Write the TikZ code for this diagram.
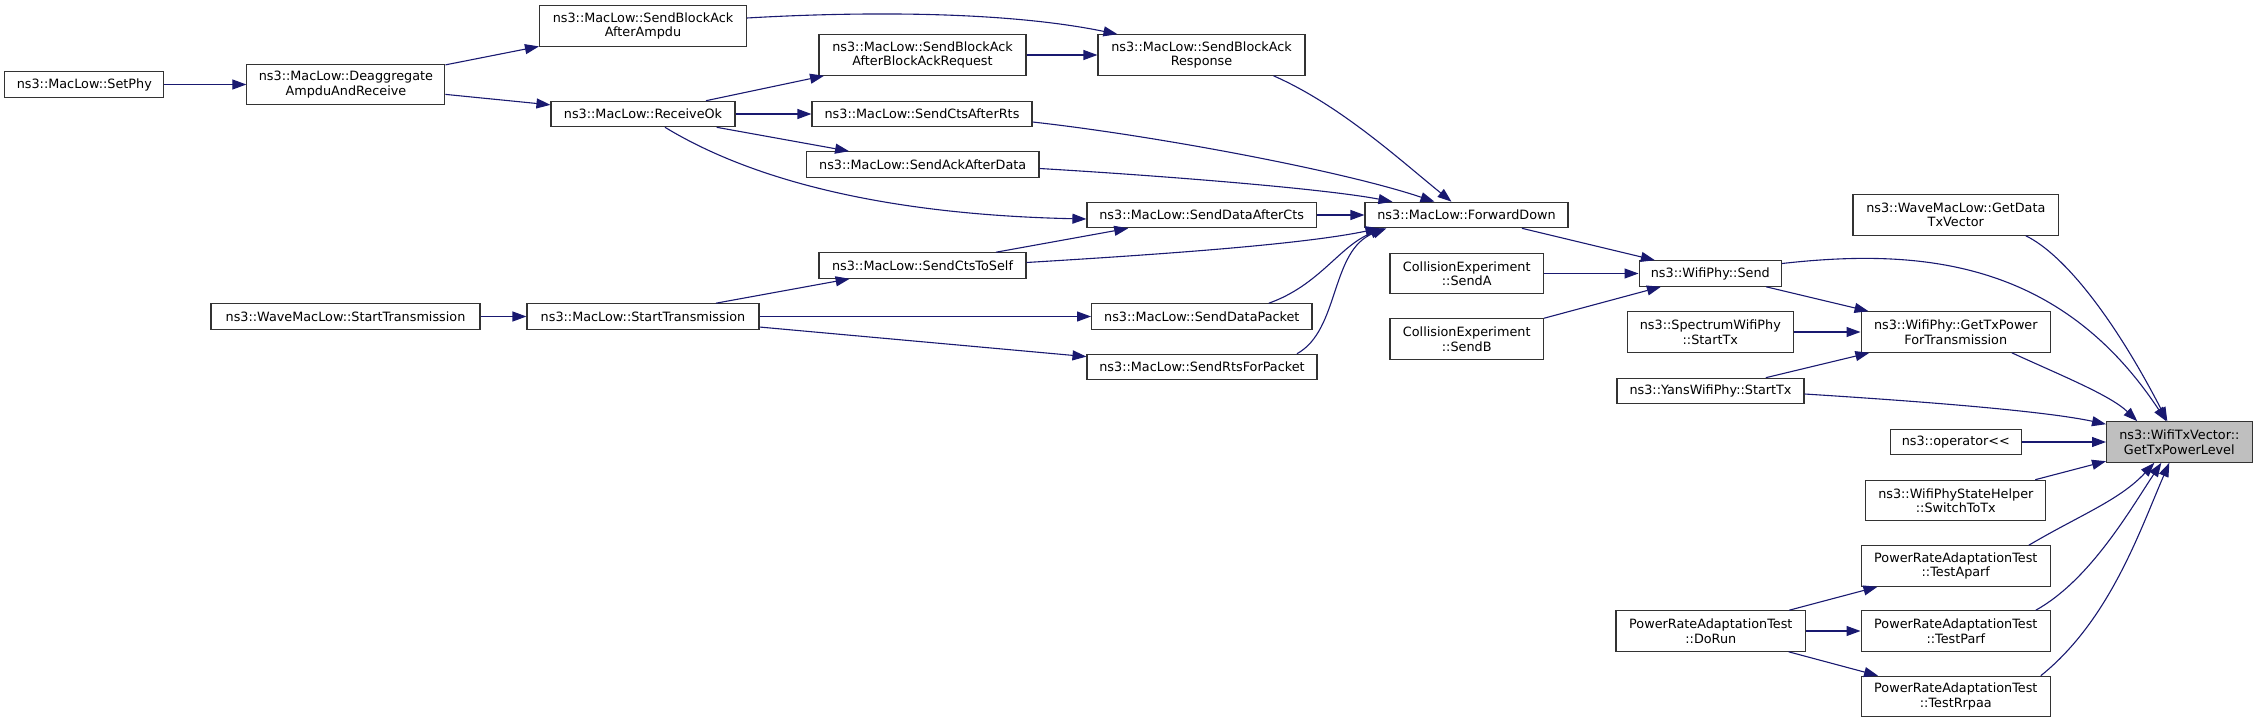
\documentclass[tikz,border=0pt]{standalone}
\usepackage{fontspec}
\setmainfont{DejaVu Sans}
\usepackage{tikz}
\usetikzlibrary{arrows.meta}
\definecolor{CallBlue}{HTML}{191970}
\definecolor{FocusGray}{HTML}{BFBFBF}
\tikzset{
  fn/.style={draw=black!80, line width=1.1bp, fill=white, inner sep=0pt, align=center,
    font=\fontsize{12.8bp}{14.5bp}\selectfont, minimum height=25.5bp},
  fntwo/.style={fn, minimum height=40.5bp},
  call/.style={draw=CallBlue, line width=1.1bp, -{Triangle[length=14bp,width=10bp]}}
}
\begin{document}
\begin{tikzpicture}[x=1bp, y=-1bp]
  \useasboundingbox (0,0) rectangle (2257,723);
  \node[fn, minimum width=159bp] (setphy) at (84.3,84.5) {ns3::MacLow::SetPhy};
  \node[fntwo, minimum width=198bp] (deagg) at (345.9,84.5) {ns3::MacLow::Deaggregate\\AmpduAndReceive};
  \node[fntwo, minimum width=207bp] (ampdu) at (643,26) {ns3::MacLow::SendBlockAck\\AfterAmpdu};
  \node[fn, minimum width=184bp] (recv) at (643,114) {ns3::MacLow::ReceiveOk};
  \node[fn, minimum width=269bp] (wavest) at (345.5,316.5) {ns3::WaveMacLow::StartTransmission};
  \node[fn, minimum width=232bp] (macst) at (643,316.5) {ns3::MacLow::StartTransmission};
  \node[fntwo, minimum width=207bp] (barreq) at (922.5,55) {ns3::MacLow::SendBlockAck\\AfterBlockAckRequest};
  \node[fntwo, minimum width=207bp] (barsp) at (1201.5,55) {ns3::MacLow::SendBlockAck\\Response};
  \node[fn, minimum width=220bp] (ctsrts) at (922,114) {ns3::MacLow::SendCtsAfterRts};
  \node[fn, minimum width=232.5bp] (ackdata) at (922.7,164.5) {ns3::MacLow::SendAckAfterData};
  \node[fn, minimum width=229.5bp] (datacts) at (1201.7,215) {ns3::MacLow::SendDataAfterCts};
  \node[fn, minimum width=203bp] (fwd) at (1466.5,215) {ns3::MacLow::ForwardDown};
  \node[fn, minimum width=207bp] (ctsself) at (922.5,265.5) {ns3::MacLow::SendCtsToSelf};
  \node[fntwo, minimum width=153.5bp] (senda) at (1466.7,273.5) {CollisionExperiment\\::SendA};
  \node[fntwo, minimum width=153.5bp] (sendb) at (1466.7,339) {CollisionExperiment\\::SendB};
  \node[fn, minimum width=220.4bp] (datapkt) at (1201.8,316.5) {ns3::MacLow::SendDataPacket};
  \node[fn, minimum width=230bp] (rtspkt) at (1202,367) {ns3::MacLow::SendRtsForPacket};
  \node[fn, minimum width=142.5bp] (physend) at (1710.3,273.5) {ns3::WifiPhy::Send};
  \node[fntwo, minimum width=205.7bp] (gdtv) at (1955.8,215) {ns3::WaveMacLow::GetData\\TxVector};
  \node[fntwo, minimum width=165.5bp] (spectx) at (1710.3,332) {ns3::SpectrumWifiPhy\\::StartTx};
  \node[fntwo, minimum width=189.5bp] (gtpft) at (1955.8,332) {ns3::WifiPhy::GetTxPower\\ForTransmission};
  \node[fn, minimum width=187bp] (yanstx) at (1710.5,391) {ns3::YansWifiPhy::StartTx};
  \node[fntwo, minimum width=145.5bp, fill=FocusGray] (lvl) at (2179.3,442) {ns3::WifiTxVector::\\GetTxPowerLevel};
  \node[fn, minimum width=131.5bp] (oplt) at (1955.8,442) {ns3::operator<{}<};
  \node[fntwo, minimum width=180bp] (swtx) at (1955.8,500.5) {ns3::WifiPhyStateHelper\\::SwitchToTx};
  \node[fntwo, minimum width=189.5bp] (aparf) at (1955.8,566) {PowerRateAdaptationTest\\::TestAparf};
  \node[fntwo, minimum width=189.6bp] (dorun) at (1710.8,631) {PowerRateAdaptationTest\\::DoRun};
  \node[fntwo, minimum width=189.5bp] (parf) at (1955.8,631) {PowerRateAdaptationTest\\::TestParf};
  \node[fntwo, minimum width=189.5bp] (rrpaa) at (1955.8,696.5) {PowerRateAdaptationTest\\::TestRrpaa};

  \draw[call] (setphy) -- (deagg);
  \draw[call] (deagg) -- (ampdu);
  \draw[call] (deagg) -- (recv);
  \draw[call] ([yshift=8bp]ampdu.east) .. controls (850,12) and (1000,10) .. ([xshift=20bp]barsp.north west);
  \draw[call] (recv) -- (barreq);
  \draw[call] (recv) -- (ctsrts);
  \draw[call] (recv) -- (ackdata);
  \draw[call] ([xshift=22bp]recv.south) .. controls (760,185) and (900,215) .. ([yshift=-4bp]datacts.west);
  \draw[call] (barreq) -- (barsp);
  \draw[call] ([xshift=72bp]barsp.south) .. controls (1340,105) and (1400,160) .. ([xshift=-15bp]fwd.north);
  \draw[call] ([yshift=-8bp]ctsrts.east) .. controls (1150,135) and (1340,170) .. ([xshift=-32bp]fwd.north);
  \draw[call] ([yshift=-4bp]ackdata.east) .. controls (1150,175) and (1320,188) .. ([xshift=28bp]fwd.north west);
  \draw[call] (datacts) -- (fwd);
  \draw[call] (ctsself) -- (datacts);
  \draw[call] ([yshift=3bp]ctsself.east) .. controls (1150,255) and (1300,245) .. ([xshift=15bp]fwd.south west);
  \draw[call] ([xshift=67bp]datapkt.north) .. controls (1320,285) and (1340,245) .. ([xshift=20bp]fwd.south west);
  \draw[call] ([xshift=95bp]rtspkt.north) .. controls (1340,330) and (1330,250) .. ([xshift=22bp]fwd.south west);
  \draw[call] (wavest) -- (macst);
  \draw[call] (macst) -- (ctsself);
  \draw[call] (macst) -- (datapkt);
  \draw[call] (macst) -- (rtspkt);
  \draw[call] (fwd) -- (physend);
  \draw[call] (senda) -- (physend);
  \draw[call] (sendb) -- (physend);
  \draw[call] (physend) -- (gtpft);
  \draw[call] ([yshift=10bp]physend.east) .. controls (1920,248) and (2060,260) .. ([xshift=-13bp]lvl.north);
  \draw[call] (spectx) -- (gtpft);
  \draw[call] (yanstx) -- (gtpft);
  \draw[call] ([yshift=-3bp]yanstx.east) .. controls (1900,400) and (2040,410) .. ([yshift=-3bp]lvl.north west);
  \draw[call] ([xshift=70bp]gdtv.south) .. controls (2065,255) and (2115,320) .. ([xshift=-12bp]lvl.north);
  \draw[call] ([xshift=56bp]gtpft.south) .. controls (2060,375) and (2110,395) .. ([xshift=-42bp]lvl.north);
  \draw[call] (oplt) -- (lvl);
  \draw[call] (swtx) -- (lvl);
  \draw[call] ([xshift=73bp]aparf.north) .. controls (2080,515) and (2120,500) .. ([xshift=-25bp]lvl.south);
  \draw[call] ([xshift=80bp]parf.north) .. controls (2090,580) and (2130,510) .. ([xshift=-18bp]lvl.south);
  \draw[call] ([xshift=85bp]rrpaa.north) .. controls (2110,620) and (2140,530) .. ([xshift=-10bp]lvl.south);
  \draw[call] (dorun) -- (aparf);
  \draw[call] (dorun) -- (parf);
  \draw[call] (dorun) -- (rrpaa);
\end{tikzpicture}
\end{document}
